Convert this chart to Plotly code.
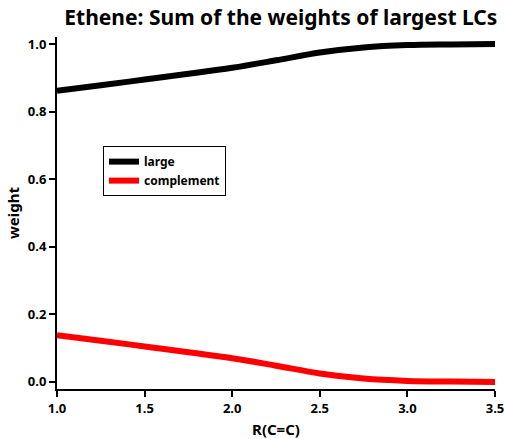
import plotly.graph_objects as go

r_vals = [1.0, 1.25, 1.5, 1.75, 2.0, 2.25, 2.5, 2.75, 3.0, 3.25, 3.5]
large = [0.862, 0.878, 0.895, 0.912, 0.930, 0.952, 0.975, 0.990, 0.997, 0.999, 1.0]
complement = [round(1 - v, 3) for v in large]

font = "Noto Sans"
fig = go.Figure()
fig.add_trace(go.Scatter(x=r_vals, y=large, mode="lines", name="large",
                         line=dict(color="black", width=6, shape="spline")))
fig.add_trace(go.Scatter(x=r_vals, y=complement, mode="lines", name="complement",
                         line=dict(color="red", width=6, shape="spline")))

fig.update_layout(
    width=506, height=439,
    margin=dict(l=57, r=11, t=37, b=50, autoexpand=False),
    paper_bgcolor="white", plot_bgcolor="white",
    font=dict(family=font, color="black", size=12),
    title=dict(text="<b>Ethene: Sum of the weights of largest LCs</b>",
               x=0.555, xanchor="center", y=0.976, yanchor="top",
               font=dict(size=21, family=font)),
    legend=dict(x=0.105, y=0.69, xanchor="left", yanchor="top",
                bordercolor="black", borderwidth=1, bgcolor="white",
                font=dict(size=12, family=font, weight="bold"),
                tracegroupgap=0, itemwidth=30),
    showlegend=True,
)
fig.update_xaxes(range=[1.0, 3.5], tickvals=[1.0, 1.5, 2.0, 2.5, 3.0, 3.5],
                 ticktext=["<b>1.0</b>", "<b>1.5</b>", "<b>2.0</b>", "<b>2.5</b>", "<b>3.0</b>", "<b>3.5</b>"],
                 showline=True, linecolor="black", linewidth=2, ticks="outside",
                 ticklen=6, tickwidth=2, tickcolor="black", showgrid=False, zeroline=False,
                 automargin=False,
                 title=dict(text="<b>R(C=C)</b>", font=dict(size=15), standoff=10),
                 tickfont=dict(size=13))
fig.update_yaxes(range=[-0.021, 1.021], tickvals=[0.0, 0.2, 0.4, 0.6, 0.8, 1.0],
                 ticktext=["<b>0.0</b>", "<b>0.2</b>", "<b>0.4</b>", "<b>0.6</b>", "<b>0.8</b>", "<b>1.0</b>"],
                 showline=True, linecolor="black", linewidth=2, ticks="outside",
                 ticklen=6, tickwidth=2, tickcolor="black", showgrid=False, zeroline=False,
                 automargin=False,
                 title=dict(text="<b>weight</b>", font=dict(size=15), standoff=5),
                 tickfont=dict(size=13))

fig.write_html("out.html")
